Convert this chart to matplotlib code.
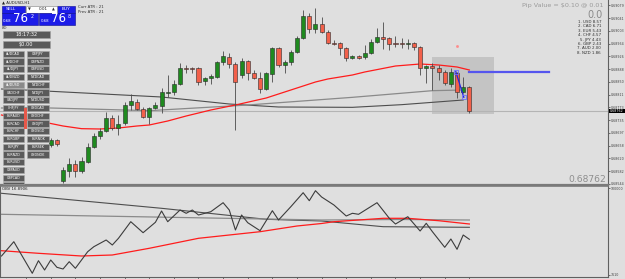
import numpy as np
import matplotlib
matplotlib.use('Agg')
import matplotlib.pyplot as plt
from matplotlib.patches import Rectangle

W, H = 625, 279
BG = '#dfdfdf'

# ---- price data (AUDUSD H1), bar index -> OHLC ----
bar_idx = list(range(8, 77))
opens = [0.68660, 0.68675, 0.68552, 0.68582, 0.68603, 0.68582, 0.68609, 0.68654, 0.68687, 0.68702,
         0.68741, 0.68711, 0.68726, 0.68780, 0.68789, 0.68768, 0.68744, 0.68771, 0.68777, 0.68817,
         0.68819, 0.68843, 0.68891, 0.68891, 0.68891, 0.68852, 0.68861, 0.68864, 0.68909, 0.68924,
         0.68903, 0.68870, 0.68912, 0.68876, 0.68861, 0.68828, 0.68873, 0.68951, 0.68900, 0.68909,
         0.68939, 0.68981, 0.69047, 0.69008, 0.69023, 0.68999, 0.68966, 0.68966, 0.68951, 0.68921,
         0.68927, 0.68924, 0.68936, 0.68969, 0.68984, 0.68981, 0.68966, 0.68966, 0.68964, 0.68966,
         0.68954, 0.68891, 0.68897, 0.68891, 0.68879, 0.68843, 0.68876, 0.68819, 0.68834]
highs = [0.68681, 0.68678, 0.68594, 0.68621, 0.68615, 0.68624, 0.68666, 0.68696, 0.68711, 0.68759,
         0.68750, 0.68750, 0.68789, 0.68813, 0.68798, 0.68774, 0.68774, 0.68789, 0.68831, 0.68870,
         0.68855, 0.68906, 0.68900, 0.68893, 0.68893, 0.68864, 0.68873, 0.68912, 0.68942, 0.68936,
         0.68909, 0.68921, 0.68915, 0.68885, 0.68879, 0.68879, 0.68954, 0.68954, 0.68915, 0.68945,
         0.68987, 0.69065, 0.69056, 0.69071, 0.69044, 0.69005, 0.68975, 0.68969, 0.68953, 0.68930,
         0.68930, 0.68960, 0.68978, 0.69011, 0.69029, 0.68984, 0.68987, 0.68981, 0.68978, 0.68969,
         0.68956, 0.68900, 0.68906, 0.68900, 0.68885, 0.68891, 0.68879, 0.68864, 0.68836]
lows = [0.68654, 0.68657, 0.68546, 0.68564, 0.68564, 0.68576, 0.68606, 0.68651, 0.68678, 0.68699,
        0.68705, 0.68690, 0.68720, 0.68765, 0.68765, 0.68741, 0.68723, 0.68768, 0.68756, 0.68804,
        0.68810, 0.68840, 0.68876, 0.68876, 0.68840, 0.68840, 0.68843, 0.68861, 0.68900, 0.68891,
        0.68705, 0.68861, 0.68855, 0.68858, 0.68816, 0.68825, 0.68849, 0.68894, 0.68876, 0.68900,
        0.68936, 0.68978, 0.68996, 0.68996, 0.68996, 0.68963, 0.68960, 0.68930, 0.68912, 0.68918,
        0.68918, 0.68918, 0.68933, 0.68966, 0.68948, 0.68945, 0.68954, 0.68951, 0.68948, 0.68945,
        0.68870, 0.68846, 0.68825, 0.68855, 0.68840, 0.68834, 0.68801, 0.68816, 0.68756]
closes = [0.68675, 0.68663, 0.68585, 0.68603, 0.68582, 0.68612, 0.68654, 0.68687, 0.68702, 0.68741,
          0.68711, 0.68723, 0.68780, 0.68792, 0.68768, 0.68744, 0.68771, 0.68780, 0.68819, 0.68819,
          0.68843, 0.68891, 0.68889, 0.68889, 0.68849, 0.68861, 0.68867, 0.68909, 0.68927, 0.68903,
          0.68849, 0.68912, 0.68876, 0.68861, 0.68828, 0.68876, 0.68951, 0.68900, 0.68909, 0.68939,
          0.68981, 0.69047, 0.69008, 0.69023, 0.68999, 0.68966, 0.68964, 0.68951, 0.68921, 0.68927,
          0.68921, 0.68936, 0.68969, 0.68984, 0.68978, 0.68963, 0.68964, 0.68964, 0.68966, 0.68954,
          0.68891, 0.68897, 0.68891, 0.68879, 0.68846, 0.68879, 0.68819, 0.68834, 0.68762]

# moving averages on the price chart
red_ma_idx = [0, 4, 6, 10, 13, 16, 19, 22, 24, 27, 30, 34, 38, 43, 47, 51, 53, 57, 59, 64, 68, 71, 74, 76]
red_ma = [0.68750, 0.68735, 0.68732, 0.68717, 0.68709, 0.68708, 0.68711, 0.68717, 0.68720, 0.68732,
          0.68747, 0.68765, 0.68780, 0.68801, 0.68825, 0.68849, 0.68858, 0.68870, 0.68879, 0.68897,
          0.68903, 0.68900, 0.68894, 0.68885]
slow_ma_idx = [0, 5, 26, 37, 45, 57, 65, 75]
slow_ma = [0.68828, 0.68824, 0.68804, 0.68783, 0.68774, 0.68773, 0.68781, 0.68795]
mid_ma_idx = [0, 6, 24, 40, 57, 70, 75]
mid_ma = [0.68771, 0.68772, 0.68763, 0.68780, 0.68803, 0.68823, 0.68825]

bid = 0.68762

# OBV indicator
obv_idx = [0, 2, 5, 6, 7, 8, 9, 10, 11, 12, 14, 15, 17, 18, 19, 21, 23, 25, 26, 27, 29, 30, 31, 32,
           34, 36, 37, 38, 39, 40, 42, 44, 45, 47, 49, 50, 51, 52, 54, 56, 57, 58, 61, 63, 64, 66,
           68, 69, 70, 72, 73, 74, 75, 76]
obv = [21, 35.3, 3.7, 16.3, 7, 17, 9.7, 8, 15.3, 8.7, 25.3, 30.3, 37, 32, 38.7, 55.3, 44.3, 54.7,
       66, 55.3, 67, 63.7, 67, 62, 65.3, 74.3, 67, 47, 62, 54.3, 46.3, 66.3, 57, 70.3, 84.3, 76.3,
       86.3, 80, 72, 61, 63.7, 62.7, 74.3, 58.7, 53, 60.3, 46, 53.7, 45.3, 29.7, 38, 27.7, 42, 37.7]
obv_slow_idx = [0, 26, 43, 52, 62, 76]
obv_slow = [83.7, 68.7, 57.7, 56, 50.3, 49.7]
obv_mid_idx = [0, 52, 65, 76]
obv_mid = [62.7, 57, 57.5, 57]
obv_red_idx = [0, 6, 13, 18, 24, 32, 42, 48, 52, 54, 62, 66, 71, 76]
obv_red = [26.3, 23.7, 21, 22, 28.7, 38.7, 45.3, 51, 53.5, 55.3, 58.7, 58.7, 56.3, 53]

pairs_left = ['AUDCAD', 'AUDCHF', 'AUDJPY', 'AUDNZD', 'AUDUSD', 'CADCHF', 'CADJPY', 'CHFJPY',
              'EURAUD', 'EURCAD', 'EURCHF', 'EURGBP', 'EURJPY', 'EURNZD', 'EURUSD', 'GBPAUD',
              'GBPCAD', 'GBPCHF']
pairs_right = ['GBPJPY', 'GBPNZD', 'GBPUSD', 'NZDCAD', 'NZDCHF', 'NZDJPY', 'NZDUSD', 'USDCAD',
               'USDCHF', 'USDJPY', 'USDSGD', 'EURNOK', 'EURSEK', 'USDNOK']
strength = ['1. USD 8.57', '2. CAD 6.71', '3. EUR 5.43', '4. CHF 4.57',
            '5. JPY 4.43', '6. GBP 2.43', '7. AUD 2.00', '8. NZD 1.86']

fig = plt.figure(figsize=(W / 100, H / 100), dpi=100)
fig.patch.set_facecolor(BG)


def px_axes(x0, y0, x1, y1):
    return fig.add_axes([x0 / W, 1 - y1 / H, (x1 - x0) / W, (y1 - y0) / H])


# x: bar i sits at pixel 1.5 + 6.156*i
step = 6.156
xl = (-1.5 / step, (608 - 1.5) / step)

ax = px_axes(0, 0, 608, 184.5)
ax.set_facecolor(BG)
ax.set_xlim(*xl)
ax.set_ylim(0.685415, 0.69095)

# highlight box + bid line
ax.add_patch(Rectangle((69.9, 0.68754), 10.1, 0.00169, fc='#c4c4c4', ec='none', zorder=0.5))
ax.axhline(bid, color='#b4b4b4', lw=0.8, zorder=0.6)

ax.plot(slow_ma_idx, slow_ma, color='#4e4e4e', lw=0.8, zorder=1)
ax.plot(mid_ma_idx, mid_ma, color='#8a8a8a', lw=0.9, zorder=1)
ax.plot(red_ma_idx, red_ma, color='#ff1c1c', lw=0.9, zorder=1.2)

o = np.array(opens); c = np.array(closes)
up = c >= o
cols = np.where(up, '#1f8a1f', '#f2604a')
ax.vlines(bar_idx, lows, highs, color='#4a4a4a', lw=0.6, zorder=2)
ax.bar(bar_idx, np.maximum(np.abs(c - o), 0.00002), bottom=np.minimum(o, c), width=0.66,
       color=cols, edgecolor='#2a2a2a', linewidth=0.4, zorder=3)

# drawn objects
ax.plot([76, 89], [0.68878, 0.68878], color='#5555ee', lw=1.6, zorder=4)
ax.plot([73.8, 75.1], [0.68880, 0.68803], color='#2424dd', lw=0.9, zorder=4)
ax.plot([73.8, 75.1], [0.68880, 0.68803], 's', ms=2.6, mfc='none', mec='#7070ff', mew=0.6, zorder=4)
ax.plot([74], [0.68958], 's', ms=0.9, color='#ff8a8a', zorder=4)

ax.yaxis.tick_right()
tick_px = 5.3 + 12.75 * np.arange(15)
ticks = 0.69095 - 0.00003 * tick_px
ax.set_yticks(ticks)
ax.set_yticklabels(['%.5f' % t for t in ticks])
ax.tick_params(axis='y', labelsize=2.3, length=1.2, width=0.5, pad=0.6, colors='#404040')
ax.set_xticks([])
for s in ['top', 'left']:
    ax.spines[s].set_visible(False)
ax.spines['right'].set_color('#606060')
ax.spines['right'].set_linewidth(0.8)
ax.spines['bottom'].set_color('#7a7a7a')
ax.spines['bottom'].set_linewidth(1.6)

# indicator panel
axi = px_axes(0, 186, 608, 277)
axi.set_facecolor(BG)
axi.set_xlim(*xl)
axi.set_ylim(0, 91)
axi.plot(obv_slow_idx, obv_slow, color='#4e4e4e', lw=0.8)
axi.plot(obv_mid_idx, obv_mid, color='#8a8a8a', lw=0.9)
axi.plot(obv_red_idx, obv_red, color='#ff1c1c', lw=0.9)
axi.plot(obv_idx, obv, color='#3c3c3c', lw=0.8)
axi.yaxis.tick_right()
axi.set_yticks([88.7, 2])
axi.set_yticklabels(['100000', '7610'])
axi.tick_params(axis='y', labelsize=2.3, length=1.2, width=0.5, pad=0.6, colors='#404040')
axi.set_xticks(np.arange(4, 77, 4))
axi.tick_params(axis='x', labelbottom=False, length=2, width=0.5, direction='out', colors='#404040')
axi.spines['top'].set_color('#7a7a7a')
axi.spines['top'].set_linewidth(1.2)
for s in ['right', 'bottom', 'left']:
    axi.spines[s].set_color('#606060')
    axi.spines[s].set_linewidth(0.8)
axi.text(0.004, 0.985, 'OBV 16.8906', transform=axi.transAxes, fontsize=2.8, color='#202020', va='top')

# overlay in pixel coordinates for the terminal widgets
ov = fig.add_axes([0, 0, 1, 1], zorder=10)
ov.set_xlim(0, W)
ov.set_ylim(H, 0)
ov.axis('off')
ov.patch.set_alpha(0)

ov.text(2, 2.6, '\u25b2 AUDUSD,H1', fontsize=2.8, color='#202020', va='center')
blue = '#1c1ce8'
for x0, w, lab in [(1.7, 23.3, 'SELL'), (57, 18, 'BUY')]:
    ov.add_patch(Rectangle((x0, 6), w, 6.7, fc=blue, ec='#0a0a90', lw=0.4))
    ov.text(x0 + (4 if lab == 'SELL' else w / 2), 9.4, lab, fontsize=3.2, color='white',
            va='center', ha='left' if lab == 'SELL' else 'center')
ov.add_patch(Rectangle((26, 6), 31, 6.7, fc='white', ec='#808080', lw=0.4))
ov.text(29, 9.4, '\u25bc', fontsize=2.6, color='#303030', va='center', ha='center')
ov.text(43, 9.4, '0.01', fontsize=3, color='#202020', va='center', ha='center')
ov.text(53.5, 9.4, '\u25b2', fontsize=2.6, color='#303030', va='center', ha='center')
for x0, sup in [(1.7, '2'), (39, '8')]:
    ov.add_patch(Rectangle((x0, 13.3), 36, 11.7, fc=blue, ec='#0a0a90', lw=0.4))
    ov.text(x0 + 1.5, 23, '0.68', fontsize=2.8, color='white', va='bottom')
    ov.text(x0 + 19, 24.6, '76', fontsize=8.5, color='white', va='bottom', ha='center')
    ov.text(x0 + 28.5, 14.5, sup, fontsize=3.4, color='white', va='top')
ov.text(78, 7, 'Curr ATR : 21', fontsize=2.8, color='#303030', va='center')
ov.text(78, 12.3, 'Prev ATR : 21', fontsize=2.8, color='#303030', va='center')
ov.text(2, 28.3, '(X)', fontsize=2.8, color='#202020', va='center')

btn = '#5a5a5a'
for y0, lab in [(30.7, '18:17:32'), (40.7, '$0.00')]:
    ov.add_patch(Rectangle((2.7, y0), 47.3, 7.6, fc=btn, ec='#a0a0a0', lw=0.4))
    ov.text(26.3, y0 + 3.9, lab, fontsize=3.6, color='white', va='center', ha='center')
for k, lab in enumerate(pairs_left):
    y0 = 50.7 + 7.75 * k
    h = min(6.2, 184 - y0)
    fc = '#8a8a8a' if lab == 'AUDUSD' else btn
    ov.add_patch(Rectangle((2.7, y0), 21.3, h, fc=fc, ec='#a8a8a8', lw=0.4))
    if h > 4:
        ov.text(13.3, y0 + 3.1, lab, fontsize=2.3, color='white', va='center', ha='center')
for k, lab in enumerate(pairs_right):
    y0 = 50.7 + 7.75 * k
    ov.add_patch(Rectangle((26.7, y0), 22.6, 6.2, fc=btn, ec='#a8a8a8', lw=0.4))
    ov.text(38, y0 + 3.1, lab, fontsize=2.3, color='white', va='center', ha='center')
ov.add_patch(Rectangle((24.3, 108.3), 2.2, 21, fc='#e8584a', ec='none'))

ov.text(604, 6, 'Pip Value = $0.10 @ 0.01', fontsize=4.6, color='#9a9a9a', ha='right', va='center')
ov.text(603, 14.5, '0.0', fontsize=7, color='#8a8a8a', ha='right', va='center')
for k, lab in enumerate(strength):
    ov.text(601, 22 + 4.4 * k, lab, fontsize=2.9, color='#303030', ha='right', va='center')
ov.text(606, 179, '0.68762', fontsize=6.6, color='#8e8e8e', ha='right', va='center')

ov.add_patch(Rectangle((608.5, 108.6), 16, 4.8, fc='black', ec='none'))
ov.text(616.5, 111, '%.5f' % bid, fontsize=2.3, color='white', ha='center', va='center')

fig.savefig('out.png', dpi=100, facecolor=BG)
